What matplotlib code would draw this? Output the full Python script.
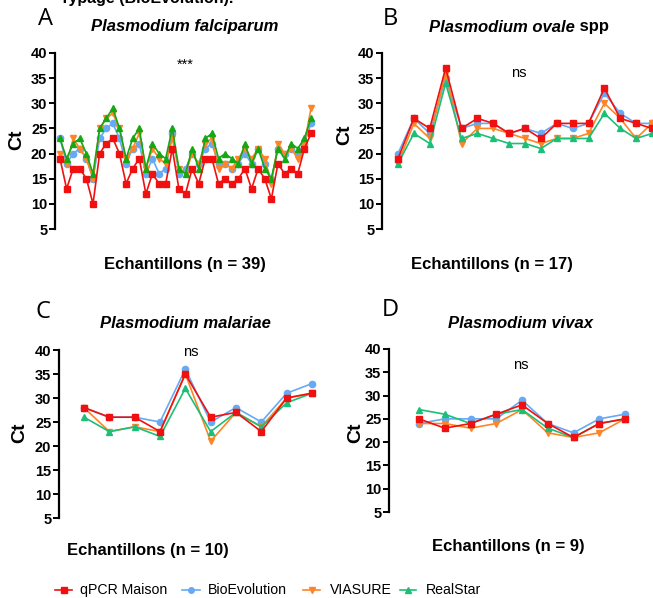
import matplotlib
matplotlib.use("Agg")
import matplotlib.pyplot as plt
import numpy as np
from matplotlib.lines import Line2D

W, H = 653, 598
DPI = 100

series_names = ["qPCR Maison", "BioEvolution", "VIASURE", "RealStar"]

# Panel A: Plasmodium falciparum (n = 39)
a_qpcr = [19, 13, 17, 17, 15, 10, 20, 22, 23, 20, 14, 17, 19, 12, 16, 14, 14, 21, 13, 12,
          17, 14, 19, 19, 14, 15, 14, 15, 17, 13, 17, 15, 11, 18, 16, 17, 16, 21, 24]
a_bio = [23, 18, 20, 21, 19, 15, 23, 25, 26, 23, 18, 21, 22, 16, 19, 16, 17, 24, 16, 17,
         20, 18, 21, 22, 18, 18, 17, 18, 20, 18, 21, 18, 15, 21, 20, 21, 20, 22, 26]
a_via = [20, 18, 23, 21, 19, 15, 25, 27, 28, 25, 19, 21, 24, 17, 21, 19, 18, 23, 17, 16,
         20, 18, 22, 23, 17, 18, 17, 19, 21, 19, 21, 19, 14, 22, 20, 21, 19, 22, 29]
a_real = [23, 19, 22, 23, 20, 16, 25, 27, 29, 25, 19, 23, 25, 17, 22, 20, 19, 25, 17, 16,
          21, 17, 23, 24, 19, 20, 19, 18, 22, 18, 21, 17, 15, 21, 19, 22, 21, 23, 27]

# Panel B: Plasmodium ovale spp (n = 17)
b_qpcr = [19, 27, 25, 37, 25, 27, 26, 24, 25, 23, 26, 26, 26, 33, 27, 26, 25]
b_bio = [20, 27, 24, 35, 25, 26, 26, 24, 25, 24, 26, 25, 26, 32, 28, 26, 26]
b_via = [18, 26, 23, 36, 22, 25, 25, 24, 23, 22, 23, 23, 24, 30, 27, 23, 26]
b_real = [18, 24, 22, 34, 23, 24, 23, 22, 22, 21, 23, 23, 23, 28, 25, 23, 24]

# Panel C: Plasmodium malariae (n = 10)
c_qpcr = [28, 26, 26, 23, 35, 26, 27, 23, 30, 31]
c_bio = [28, 26, 26, 25, 36, 25, 28, 25, 31, 33]
c_via = [28, 23, 24, 23, 35, 21, 27, 24, 30, 31]
c_real = [26, 23, 24, 22, 32, 23, 27, 24, 29, 31]

# Panel D: Plasmodium vivax (n = 9)
d_qpcr = [25, 23, 24, 26, 28, 24, 21, 24, 25]
d_bio = [24, 25, 25, 25, 29, 24, 22, 25, 26]
d_via = [24, 24, 23, 24, 27, 22, 21, 22, 25]
d_real = [27, 26, 24, 26, 27, 23, 21, 24, 25]

y_ticks = [5, 10, 15, 20, 25, 30, 35, 40]

FONT = "Liberation Sans"
plt.rcParams["font.family"] = [FONT, "DejaVu Sans"]

fig = plt.figure(figsize=(W / DPI, H / DPI), dpi=DPI)

RED = "#f01010"
BLUE = "#66aaf5"
ORANGE = "#ff8426"
GREEN_A = "#14a814"
GREEN = "#1cbf78"
markers = ["s", "o", "v", "^"]


def fx(px):
    return px / W


def fy(py):
    return 1 - py / H


def add_panel(data, spine_x, y40, y5, first_px, last_px, right_px, green,
              letter, letter_xy, stat, stat_xy, xlabel, xlabel_xy, ct_xy):
    n = len(data[0])
    left = spine_x
    ax = fig.add_axes([fx(left), fy(y5), (right_px - left) / W, (y5 - y40) / H])
    ppi = (last_px - first_px) / (n - 1)
    x0 = 1 - (first_px - left) / ppi
    x1 = n + (right_px - last_px) / ppi
    ax.set_xlim(x0, x1)
    ax.set_ylim(5, 40)
    xs = np.arange(1, n + 1)
    colors = [RED, BLUE, ORANGE, green]
    for k in [1, 2, 3, 0]:
        ax.plot(xs, data[k], color=colors[k], marker=markers[k], markersize=4.5,
                linewidth=1.2, clip_on=False, zorder=3 + (k == 0))
    for s in ["top", "right", "bottom"]:
        ax.spines[s].set_visible(False)
    ax.spines["left"].set_linewidth(1.6)
    ax.spines["left"].set_bounds(5, 40)
    ax.set_xticks([])
    ax.set_yticks(y_ticks)
    ax.tick_params(axis="y", direction="out", length=4, width=1.4, pad=1.5,
                   labelsize=10.5)
    for lab in ax.get_yticklabels():
        lab.set_fontweight("bold")
    ax.patch.set_alpha(0)
    fig.text(fx(letter_xy[0]), fy(letter_xy[1]), letter, fontsize=17,
             family="Open Sans", ha="center", va="center")
    fig.text(fx(stat_xy[0]), fy(stat_xy[1]), stat, fontsize=10.5,
             ha="center", va="center")
    fig.text(fx(xlabel_xy[0]), fy(xlabel_xy[1]), xlabel, fontsize=12,
             fontweight="bold", ha="center", va="center")
    fig.text(fx(ct_xy[0]), fy(ct_xy[1]), "Ct", fontsize=14,
             fontweight="bold", ha="center", va="center", rotation=90)
    return ax


add_panel([a_qpcr, a_bio, a_via, a_real], 55, 53, 229, 60, 311, 318, GREEN_A,
          "A", (46, 19), "***", (185, 65), "Echantillons (n = 39)", (185, 265), (17, 140))
add_panel([b_qpcr, b_bio, b_via, b_real], 382, 53, 229, 398, 652, 653, GREEN,
          "B", (390, 19), "ns", (519, 73), "Echantillons (n = 17)", (492, 265), (345, 135))
add_panel([c_qpcr, c_bio, c_via, c_real], 59, 350, 518, 84, 312, 318, GREEN,
          "C", (43, 312), "ns", (191, 352), "Echantillons (n = 10)", (148, 551), (20, 433))
add_panel([d_qpcr, d_bio, d_via, d_real], 389, 349, 512, 419, 625, 640, GREEN,
          "D", (390, 310), "ns", (521, 365), "Echantillons (n = 9)", (508, 547), (356, 433))

title_kw = dict(fontsize=12, fontweight="bold", fontstyle="italic", va="center")
fig.text(fx(185), fy(27), "Plasmodium falciparum", ha="center", **title_kw)
fig.text(fx(185), fy(323), "Plasmodium malariae", ha="center", **title_kw)
fig.text(fx(520), fy(323), "Plasmodium vivax", ha="center", **title_kw)
t_ov = fig.text(fx(575), fy(27), "Plasmodium ovale", ha="right", **title_kw)
plt.annotate(" spp", xy=(1, 0), xycoords=t_ov, fontsize=12, fontweight="bold",
             ha="left", va="bottom", annotation_clip=False)

# cut-off text at the top (as in the reference)
fig.text(fx(60), 1 + 2 / H, "Typage (BioEvolution).", fontsize=11.5,
         fontweight="bold", ha="left", va="center")

# legend drawn manually at reference positions
leg_y = fy(590)
leg_items = [(55, 72, 80), (182, 200, 208), (303, 320, 330), (400, 416, 426)]
for (x0, x1, xt), c, m, name in zip(leg_items, [RED, BLUE, ORANGE, GREEN], markers,
                                    series_names):
    fig.add_artist(Line2D([fx(x0), fx(x1)], [leg_y, leg_y], color=c, linewidth=1.2,
                          transform=fig.transFigure))
    fig.add_artist(Line2D([fx((x0 + x1) / 2)], [leg_y], color=c, marker=m,
                          markersize=4, transform=fig.transFigure))
    fig.text(fx(xt), leg_y, name, fontsize=10.2, ha="left", va="center")

fig.savefig("out.png", dpi=DPI)
